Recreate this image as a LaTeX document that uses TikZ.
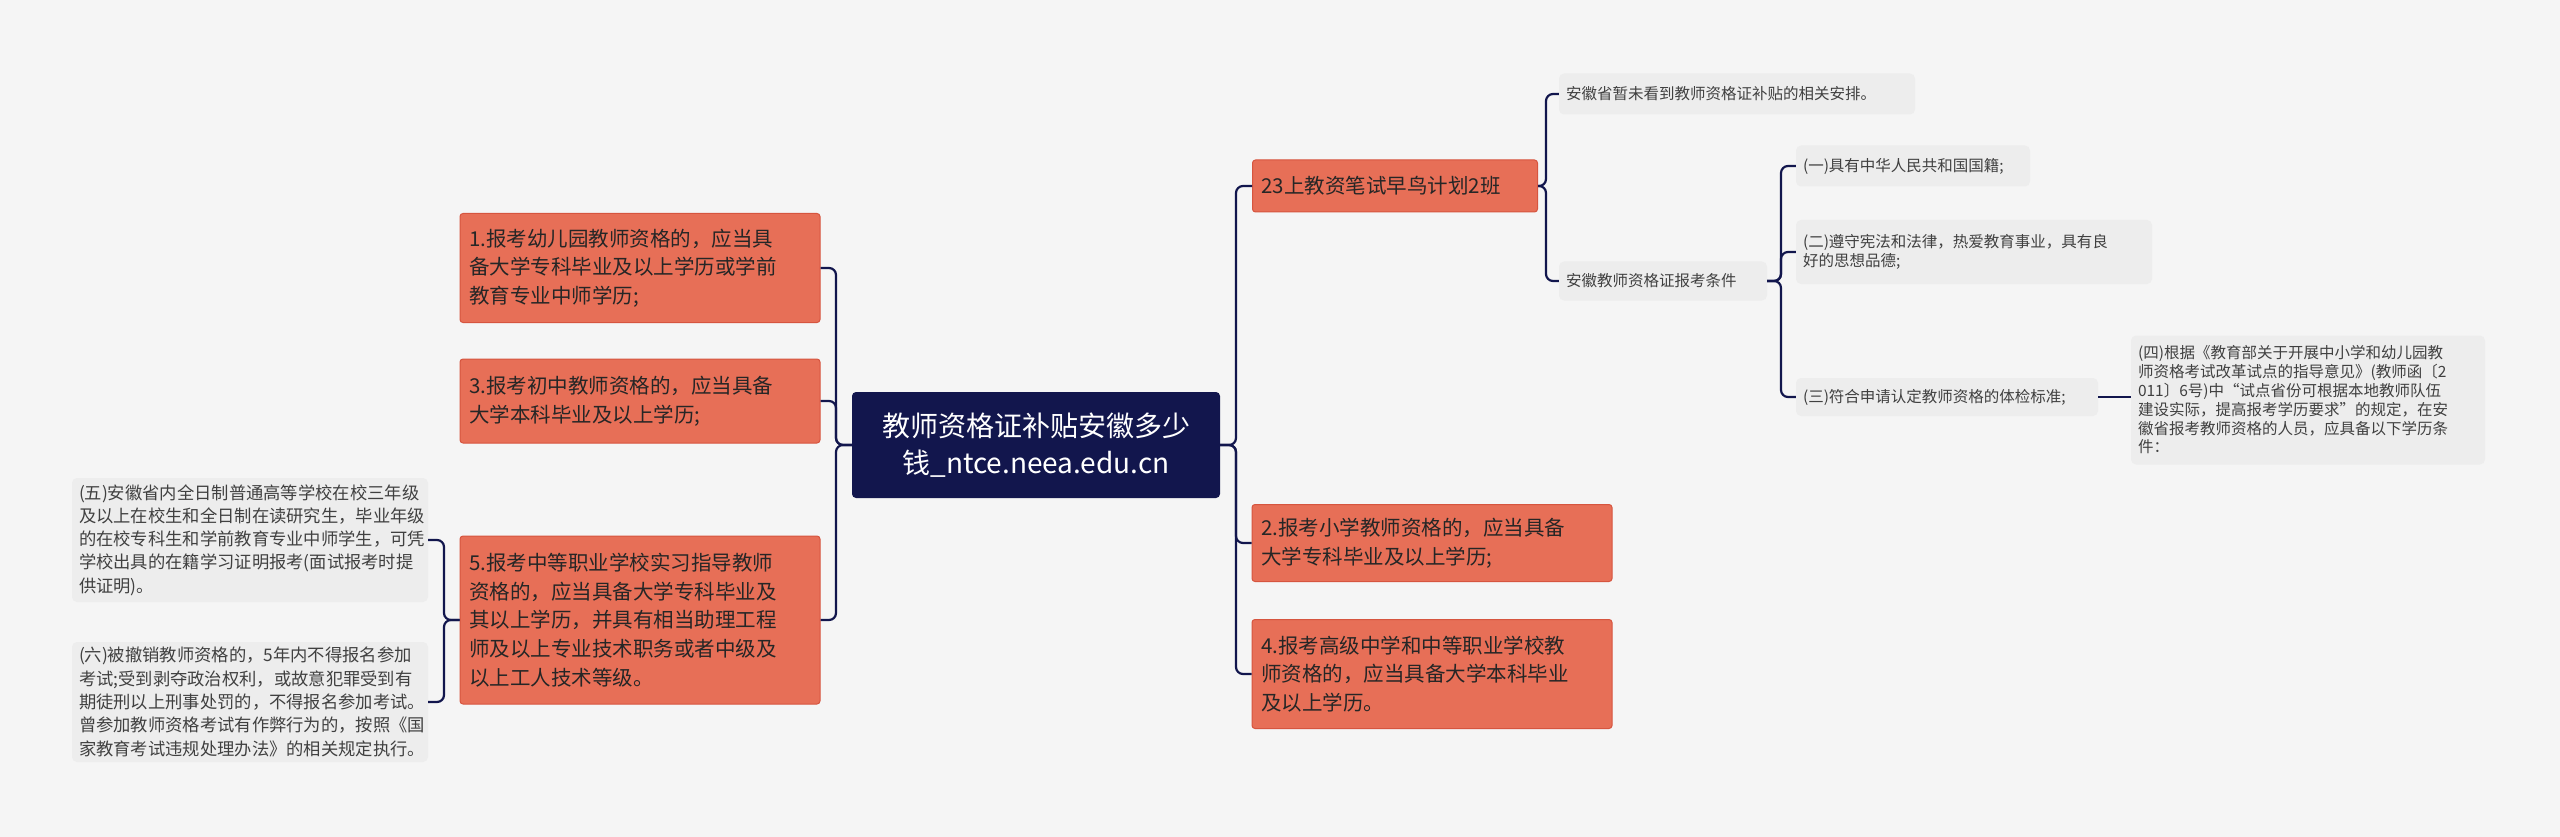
\documentclass[tikz,border=0pt]{standalone}
\usepackage{fontspec}
\setmainfont{Noto Sans CJK SC}
\begin{document}
\begin{tikzpicture}[x=1pt,y=-1pt,
  conn/.style={draw=navy,line width=2.2pt,rounded corners=7pt},
  orange/.style={rectangle,rounded corners=3pt,fill=orng,draw=orngd,line width=1pt,inner xsep=9pt,inner ysep=0pt,align=left,text=black!85,font=\fontsize{20.5}{28.6}\selectfont},
  gleaf/.style={rectangle,rounded corners=5pt,fill=gbox,inner xsep=7pt,inner ysep=0pt,align=left,text=black!75,font=\fontsize{15.5}{18.8}\selectfont},
  gbig/.style={rectangle,rounded corners=5pt,fill=gbox,inner xsep=7pt,inner ysep=0pt,align=left,text=black!75,font=\fontsize{17.3}{23.3}\selectfont}]
\definecolor{navy}{HTML}{12164D}
\definecolor{orng}{HTML}{E76F57}
\definecolor{orngd}{HTML}{D6553F}
\definecolor{gbox}{HTML}{EDEDED}
\definecolor{bg}{HTML}{F5F5F5}
\fill[bg] (0,0) rectangle (2560,837);
\useasboundingbox (0,0) rectangle (2560,837);
% central
\node[rectangle,rounded corners=4pt,fill=navy,text=white,align=center,minimum width=368pt,minimum height=106pt,inner sep=0pt,font=\fontsize{28}{37}\selectfont] (c) at (1036,445) {教师资格证补贴安徽多少\\钱\_ntce.neea.edu.cn};
% left
\node[orange,minimum width=360pt,minimum height=109pt,text width=342pt] (l1) at (640,268) {1.报考幼儿园教师资格的，应当具\\备大学专科毕业及以上学历或学前\\教育专业中师学历;};
\node[orange,minimum width=360pt,minimum height=84pt,text width=342pt] (l3) at (640,401) {3.报考初中教师资格的，应当具备\\大学本科毕业及以上学历;};
\node[orange,minimum width=360pt,minimum height=168pt,text width=342pt] (l5) at (640,620) {5.报考中等职业学校实习指导教师\\资格的，应当具备大学专科毕业及\\其以上学历，并具有相当助理工程\\师及以上专业技术职务或者中级及\\以上工人技术等级。};
\node[gbig,minimum width=356pt,minimum height=124pt,text width=342pt] (g5) at (250,540) {(五)安徽省内全日制普通高等学校在校三年级\\及以上在校生和全日制在读研究生，毕业年级\\的在校专科生和学前教育专业中师学生，可凭\\学校出具的在籍学习证明报考(面试报考时提\\供证明)。};
\node[gbig,minimum width=356pt,minimum height=120pt,text width=342pt] (g6) at (250,702) {(六)被撤销教师资格的，5年内不得报名参加\\考试;受到剥夺政治权利，或故意犯罪受到有\\期徒刑以上刑事处罚的，不得报名参加考试。\\曾参加教师资格考试有作弊行为的，按照《国\\家教育考试违规处理办法》的相关规定执行。};
% right
\node[orange,minimum width=285pt,minimum height=52pt,text width=267pt] (r23) at (1395,186) {23上教资笔试早鸟计划2班};
\node[orange,minimum width=360pt,minimum height=77pt,text width=342pt] (r2) at (1432,543) {2.报考小学教师资格的，应当具备\\大学专科毕业及以上学历;};
\node[orange,minimum width=360pt,minimum height=109pt,text width=342pt] (r4) at (1432,674) {4.报考高级中学和中等职业学校教\\师资格的，应当具备大学本科毕业\\及以上学历。};
\node[gleaf,minimum width=356pt,minimum height=41pt,text width=342pt] (a1) at (1737,94) {安徽省暂未看到教师资格证补贴的相关安排。};
\node[gleaf,minimum width=208pt,minimum height=39pt,text width=194pt] (a2) at (1663,281) {安徽教师资格证报考条件};
\node[gleaf,minimum width=234pt,minimum height=41pt,text width=220pt] (b1) at (1913,166) {(一)具有中华人民共和国国籍;};
\node[gleaf,minimum width=356pt,minimum height=64pt,text width=342pt] (b2) at (1974,252) {(二)遵守宪法和法律，热爱教育事业，具有良\\好的思想品德;};
\node[gleaf,minimum width=302pt,minimum height=38pt,text width=288pt] (b3) at (1947,397) {(三)符合申请认定教师资格的体检标准;};
\node[gleaf,minimum width=354pt,minimum height=129pt,text width=340pt] (b4) at (2308,400) {(四)根据《教育部关于开展中小学和幼儿园教\\师资格考试改革试点的指导意见》(教师函〔2\\011〕6号)中“试点省份可根据本地教师队伍\\建设实际，提高报考学历要求”的规定，在安\\徽省报考教师资格的人员，应具备以下学历条\\件：};
% connectors
\foreach \t in {r23,r2,r4} \draw[conn] (c.east) -- (1236,445) |- (\t.west);
\foreach \t in {l1,l3,l5} \draw[conn] (c.west) -- (836,445) |- (\t.east);
\foreach \t in {g5,g6} \draw[conn] (l5.west) -- (444,620) |- (\t.east);
\foreach \t in {a1,a2} \draw[conn] (r23.east) -- (1546,186) |- (\t.west);
\foreach \t in {b1,b2,b3} \draw[conn] (a2.east) -- (1781,281) |- (\t.west);
\draw[conn] (b3.east) -- (b4.west |- b3.east);
\end{tikzpicture}
\end{document}
